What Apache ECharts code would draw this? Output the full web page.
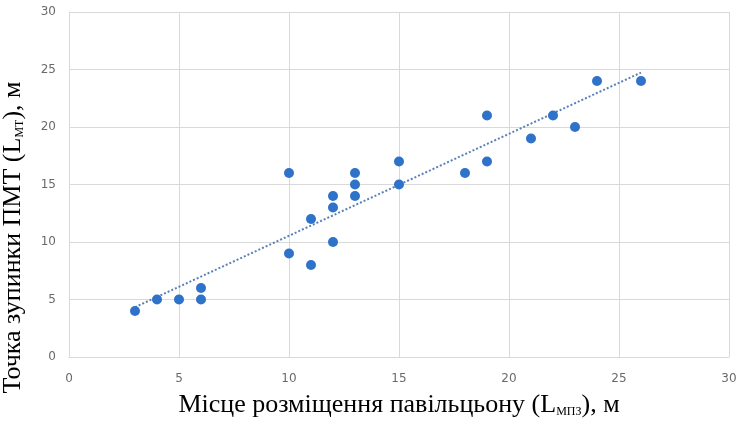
<!DOCTYPE html>
<html>
<head>
<meta charset="utf-8">
<script src="https://cdn.jsdelivr.net/npm/echarts@6/dist/echarts.min.js"></script>
<style>html,body{margin:0;padding:0;background:#fff;}#c{width:738px;height:421px;}</style>
</head>
<body>
<div id="c"></div>
<script>
const xValues = [3,4,5,6,6,10,10,11,11,12,12,12,13,13,13,15,15,18,19,19,21,22,23,24,26];
const yValues = [4,5,5,5,6,9,16,8,12,10,13,14,14,15,16,15,17,16,17,21,19,21,20,24,24];
const xTicks = [0,5,10,15,20,25,30];
const yTicks = [0,5,10,15,20,25,30];

const points = xValues.map((x, i) => [x, yValues[i]]);
// least-squares linear trendline from the data
const n = xValues.length;
const mx = xValues.reduce((a, b) => a + b, 0) / n;
const my = yValues.reduce((a, b) => a + b, 0) / n;
let sxy = 0, sxx = 0;
for (let i = 0; i < n; i++) { sxy += (xValues[i] - mx) * (yValues[i] - my); sxx += (xValues[i] - mx) ** 2; }
const slope = sxy / sxx, icpt = my - slope * mx;
const xMin = Math.min(...xValues), xMax = Math.max(...xValues);
const trend = [[xMin, icpt + slope * xMin], [xMax, icpt + slope * xMax]];

const chart = echarts.init(document.getElementById('c'));
const tickFont = { color: '#6a6a6a', fontSize: 12, fontFamily: '"DejaVu Sans", sans-serif' };
chart.setOption({
  animation: false,
  grid: { left: 69, right: 9, top: 12, bottom: 64, containLabel: false, outerBoundsMode: 'none' },
  xAxis: {
    type: 'value', min: xTicks[0], max: xTicks[xTicks.length - 1], interval: 5,
    axisLine: { lineStyle: { color: '#d9d9d9' } },
    axisTick: { show: false },
    splitLine: { lineStyle: { color: '#d9d9d9' } },
    axisLabel: Object.assign({ margin: 16 }, tickFont),
    name: '{m|Місце розміщення павільцьону (L}{s|МПЗ}{m|), м}',
    nameLocation: 'middle', nameGap: 35,
    nameTextStyle: {
      rich: {
        m: { fontFamily: 'Liberation Serif', fontSize: 26, color: '#000' },
        s: { fontFamily: 'Liberation Serif', fontSize: 12, color: '#000', verticalAlign: 'bottom', padding: [10, 0, 0, 0] }
      }
    }
  },
  yAxis: {
    type: 'value', min: yTicks[0], max: yTicks[yTicks.length - 1], interval: 5,
    axisLine: { show: true, lineStyle: { color: '#d9d9d9' } },
    axisTick: { show: false },
    splitLine: { lineStyle: { color: '#d9d9d9' } },
    axisLabel: Object.assign({ margin: 13 }, tickFont),
    name: '{m|Точка зупинки ПМТ (L}{s|МТ}{m|), м}',
    nameLocation: 'middle', nameGap: 43,
    nameTextStyle: {
      padding: [0, 0, 0, -106],
      rich: {
        m: { fontFamily: 'Liberation Serif', fontSize: 26, color: '#000' },
        s: { fontFamily: 'Liberation Serif', fontSize: 12, color: '#000', verticalAlign: 'bottom', padding: [10, 0, 0, 0] }
      }
    }
  },
  series: [
    {
      type: 'line', data: trend, symbol: 'none', silent: true,
      lineStyle: { color: '#5b80b8', width: 2, type: [2, 2] }, z: 1
    },
    {
      type: 'scatter', data: points, symbol: 'circle', symbolSize: 10,
      itemStyle: { color: '#2f72c9', opacity: 1 }, z: 2
    }
  ]
});
</script>
</body>
</html>
